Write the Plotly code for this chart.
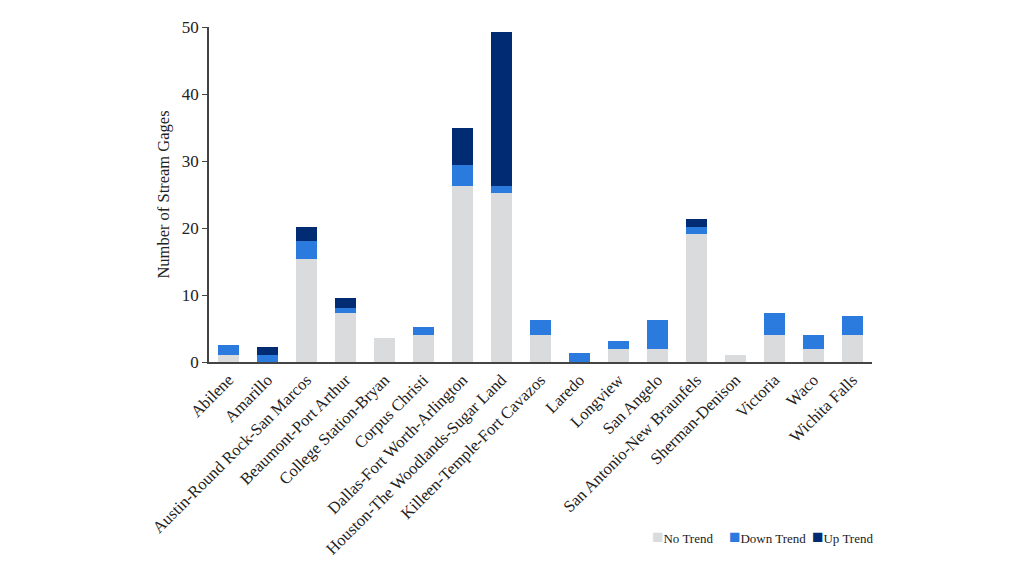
import plotly.graph_objects as go

categories = ["Abilene", "Amarillo", "Austin-Round Rock-San Marcos", "Beaumont-Port Arthur",
              "College Station-Bryan", "Corpus Christi", "Dallas-Fort Worth-Arlington",
              "Houston-The Woodlands-Sugar Land", "Killeen-Temple-Fort Cavazos", "Laredo",
              "Longview", "San Angelo", "San Antonio-New Braunfels", "Sherman-Denison",
              "Victoria", "Waco", "Wichita Falls"]
no_trend = [1.1, 0.0, 15.4, 7.3, 3.6, 4.1, 26.2, 25.2, 4.1, 0.0, 2.0, 2.0, 19.1, 1.1, 4.1, 2.0, 4.1]
down_trend = [1.4, 1.0, 2.7, 0.8, 0.0, 1.1, 3.2, 1.0, 2.1, 1.4, 1.1, 4.2, 1.1, 0.0, 3.2, 2.1, 2.8]
up_trend = [0.0, 1.2, 2.0, 1.4, 0.0, 0.0, 5.6, 23.0, 0.0, 0.0, 0.0, 0.0, 1.2, 0.0, 0.0, 0.0, 0.0]
y_ticks = [0, 10, 20, 30, 40, 50]

series_names = ["No Trend", "Down Trend", "Up Trend"]
series_colors = ["#DADBDD", "#2B7BDE", "#012C74"]

FONT = "Liberation Serif, Times New Roman, serif"

W, H = 1024, 576
L, R, T, B = 209, 152, 27, 214

fig = go.Figure()
for name, vals, col in zip(series_names, [no_trend, down_trend, up_trend], series_colors):
    fig.add_bar(x=categories, y=vals, name=name, marker_color=col, marker_line_width=0)

fig.update_layout(
    barmode="stack",
    bargap=0.44,
    width=W, height=H,
    margin=dict(l=L, r=R, t=T, b=B, autoexpand=False),
    plot_bgcolor="white", paper_bgcolor="white",
    font=dict(family=FONT, color="#222222", size=16),
    showlegend=False,
)

# manual legend (text with coloured square glyphs), placed in the bottom-right
legend_left_px = [650, 727, 810]
legend_y_px = 536
pw = W - L - R
ph = H - T - B
for name, col, px in zip(series_names, series_colors, legend_left_px):
    fig.add_annotation(
        xref="paper", yref="paper",
        x=(px - L) / pw, y=(H - B - legend_y_px) / ph,
        xanchor="left", yanchor="middle", showarrow=False,
        text=f"<span style='color:{col};font-size:19px'>■</span>{name}",
        font=dict(size=13, family=FONT, color="#222222"),
    )

fig.update_xaxes(
    tickangle=-45, showline=True, linecolor="#444444", linewidth=1.5,
    ticks="", tickfont=dict(size=16.5, family=FONT, color="#222222"), showgrid=False, automargin=False,
)
fig.update_yaxes(
    range=[0, 50], tickvals=y_ticks, showline=True, linecolor="#444444", linewidth=1.5,
    ticks="outside", ticklen=5, tickcolor="#444444", showgrid=False, zeroline=False,
    tickfont=dict(size=17, family=FONT, color="#222222"), automargin=False,
    title=dict(text="Number of Stream Gages", font=dict(size=16.5, family=FONT), standoff=8),
)

fig.write_html("out.html")
